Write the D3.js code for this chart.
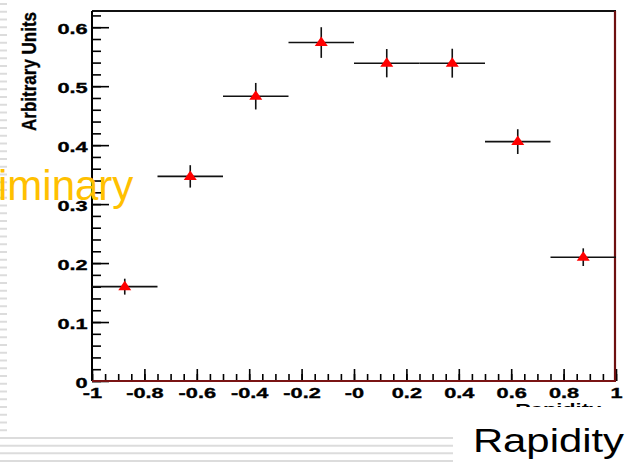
<!DOCTYPE html>
<html lang="en">
<meta charset="UTF-8">
<title>Rapidity distribution</title>
<script src="https://d3js.org/d3.v7.min.js"></script>
<style>
  body { margin: 0; background: #fff; }
  svg { display: block; }
  .tick text { font-family: "Liberation Sans", Arial, sans-serif; font-weight: bold; font-size: 15px; fill: #000; stroke: #000; stroke-width: 0.35px; }
</style>
<body>
<div id="my_dataviz"></div>
<script>
// data
var rapidity = [-0.875, -0.625, -0.375, -0.125, 0.125, 0.375, 0.625, 0.875];
var binHalfWidth = [0.125, 0.125, 0.125, 0.125, 0.125, 0.125, 0.125, 0.125];
var values = [0.160, 0.347, 0.483, 0.574, 0.539, 0.539, 0.406, 0.210];
var errors = [0.0135, 0.019, 0.0225, 0.026, 0.024, 0.0245, 0.021, 0.015];
var xTicks = [-1, -0.8, -0.6, -0.4, -0.2, 0, 0.2, 0.4, 0.6, 0.8, 1];
var xTickLabels = ["-1", "-0.8", "-0.6", "-0.4", "-0.2", "-0", "0.2", "0.4", "0.6", "0.8", "1"];
var yTicks = [0, 0.1, 0.2, 0.3, 0.4, 0.5, 0.6];
var yTickLabels = ["0", "0.1", "0.2", "0.3", "0.4", "0.5", "0.6"];

var W = 627, H = 465;
var margin = {top: 11, right: 11, bottom: 84, left: 92};
var width = W - margin.left - margin.right,
    height = H - margin.top - margin.bottom;

var svg = d3.select("#my_dataviz").append("svg")
  .attr("width", W)
  .attr("height", H);

// slide background stripes
var stripe = "#dcdcdc";
svg.append("g").selectAll("line")
  .data(d3.range(4, 432, 7.75))
  .enter().append("line")
    .attr("x1", 0).attr("x2", 7)
    .attr("y1", function(d) { return d; }).attr("y2", function(d) { return d; })
    .attr("stroke", stripe).attr("stroke-width", 2);
svg.append("g").selectAll("line")
  .data([438, 445.7, 453.3, 461])
  .enter().append("line")
    .attr("x1", 0).attr("x2", 453)
    .attr("y1", function(d) { return d; }).attr("y2", function(d) { return d; })
    .attr("stroke", stripe).attr("stroke-width", 2);

var g = svg.append("g")
  .attr("transform", "translate(" + margin.left + "," + margin.top + ")");

var x = d3.scaleLinear().domain([-1, 1]).range([0, width]);
var y = d3.scaleLinear().domain([0, 0.6275]).range([height, 0]);

// Y axis: major and minor ticks pointing inwards
g.append("g")
  .call(d3.axisLeft(y).tickValues(d3.range(0, 0.63, 0.02)).tickSize(-9).tickFormat(""))
  .call(function(s) { s.select(".domain").remove(); })
  .selectAll("line").attr("stroke", "#000").attr("stroke-width", 1.6);
var yAxis = g.append("g")
  .call(d3.axisLeft(y).tickValues(yTicks).tickSize(-17).tickPadding(3)
    .tickFormat(function(d, i) { return yTickLabels[i]; }));
yAxis.select(".domain").remove();
yAxis.selectAll("line").attr("stroke", "#000").attr("stroke-width", 1.6);
yAxis.selectAll("text").attr("dy", "0.45em").attr("transform", "scale(1.45,1)");

// X axis
g.append("g")
  .attr("transform", "translate(0," + height + ")")
  .call(d3.axisBottom(x).tickValues(d3.range(-1, 1.001, 0.05)).tickSize(-7).tickFormat(""))
  .call(function(s) { s.select(".domain").remove(); })
  .selectAll("line").attr("stroke", "#000").attr("stroke-width", 1.6);
var xAxis = g.append("g")
  .attr("transform", "translate(0," + height + ")")
  .call(d3.axisBottom(x).tickValues(xTicks).tickSize(-12).tickPadding(6)
    .tickFormat(function(d, i) { return xTickLabels[i]; }));
xAxis.select(".domain").remove();
xAxis.selectAll("line").attr("stroke", "#000").attr("stroke-width", 1.6);
xAxis.selectAll("text").attr("transform", "scale(1.45,1)");

// frame
g.append("line").attr("x1", 0).attr("x2", width).attr("y1", 0).attr("y2", 0)
  .attr("stroke", "#111").attr("stroke-width", 2);
g.append("line").attr("x1", 0).attr("x2", 0).attr("y1", 0).attr("y2", height)
  .attr("stroke", "#000").attr("stroke-width", 2);
g.append("line").attr("x1", width - 1).attr("x2", width - 1).attr("y1", 0).attr("y2", height)
  .attr("stroke", "#6e1010").attr("stroke-width", 2.2);
g.append("line").attr("x1", 0).attr("x2", width).attr("y1", height).attr("y2", height)
  .attr("stroke", "#7a1414").attr("stroke-width", 2.2);

// error bars
var pts = rapidity.map(function(r, i) {
  return {x: r, xe: binHalfWidth[i], v: values[i], e: errors[i]};
});
var bars = g.append("g").selectAll("g").data(pts).enter().append("g");
bars.append("line")
  .attr("x1", function(d) { return x(d.x - d.xe); })
  .attr("x2", function(d) { return x(d.x + d.xe); })
  .attr("y1", function(d) { return y(d.v); })
  .attr("y2", function(d) { return y(d.v); })
  .attr("stroke", "#111").attr("stroke-width", 1.6);
bars.append("line")
  .attr("x1", function(d) { return x(d.x); })
  .attr("x2", function(d) { return x(d.x); })
  .attr("y1", function(d) { return y(d.v - d.e); })
  .attr("y2", function(d) { return y(d.v + d.e); })
  .attr("stroke", "#111").attr("stroke-width", 1.6);

// red triangle markers
bars.append("path")
  .attr("transform", function(d) { return "translate(" + x(d.x) + "," + y(d.v) + ")"; })
  .attr("d", "M0,-6L6.5,3.5L-6.5,3.5Z")
  .attr("fill", "#f00");

// axis titles
svg.append("text")
  .attr("transform", "translate(36,12) rotate(-90) scale(1.03,1.2)")
  .attr("text-anchor", "end")
  .style("font-family", "Liberation Sans, Arial, sans-serif")
  .style("font-weight", "bold")
  .style("font-size", "16.5px")
  .style("stroke", "#000").style("stroke-width", "0.3px")
  .text("Arbitrary Units");

// x title of the plot, mostly hidden below the crop of the figure
svg.append("clipPath").attr("id", "cut")
  .append("rect").attr("x", 0).attr("y", 0).attr("width", W).attr("height", 407);
svg.append("g")
  .attr("clip-path", "url(#cut)")
  .append("text")
    .attr("transform", "translate(601,414) scale(1.45,1)")
    .attr("text-anchor", "end")
    .style("font-family", "Liberation Sans, Arial, sans-serif")
    .style("font-weight", "bold")
    .style("font-size", "15px")
    .text("Rapidity");

svg.append("text")
  .attr("transform", "translate(624,452) scale(1.23,1)")
  .attr("text-anchor", "end")
  .style("font-family", "Liberation Sans, Arial, sans-serif")
  .style("font-size", "34px")
  .text("Rapidity");

// partially visible watermark
var prelim = svg.append("text")
  .attr("y", 200)
  .style("font-family", "Liberation Sans, Arial, sans-serif")
  .style("font-size", "42px")
  .attr("fill", "#ffc000")
  .text("Preliminary");
var lead = prelim.node().getSubStringLength(0, 4);
prelim.attr("x", -lead - 2);
</script>
</body>
</html>
